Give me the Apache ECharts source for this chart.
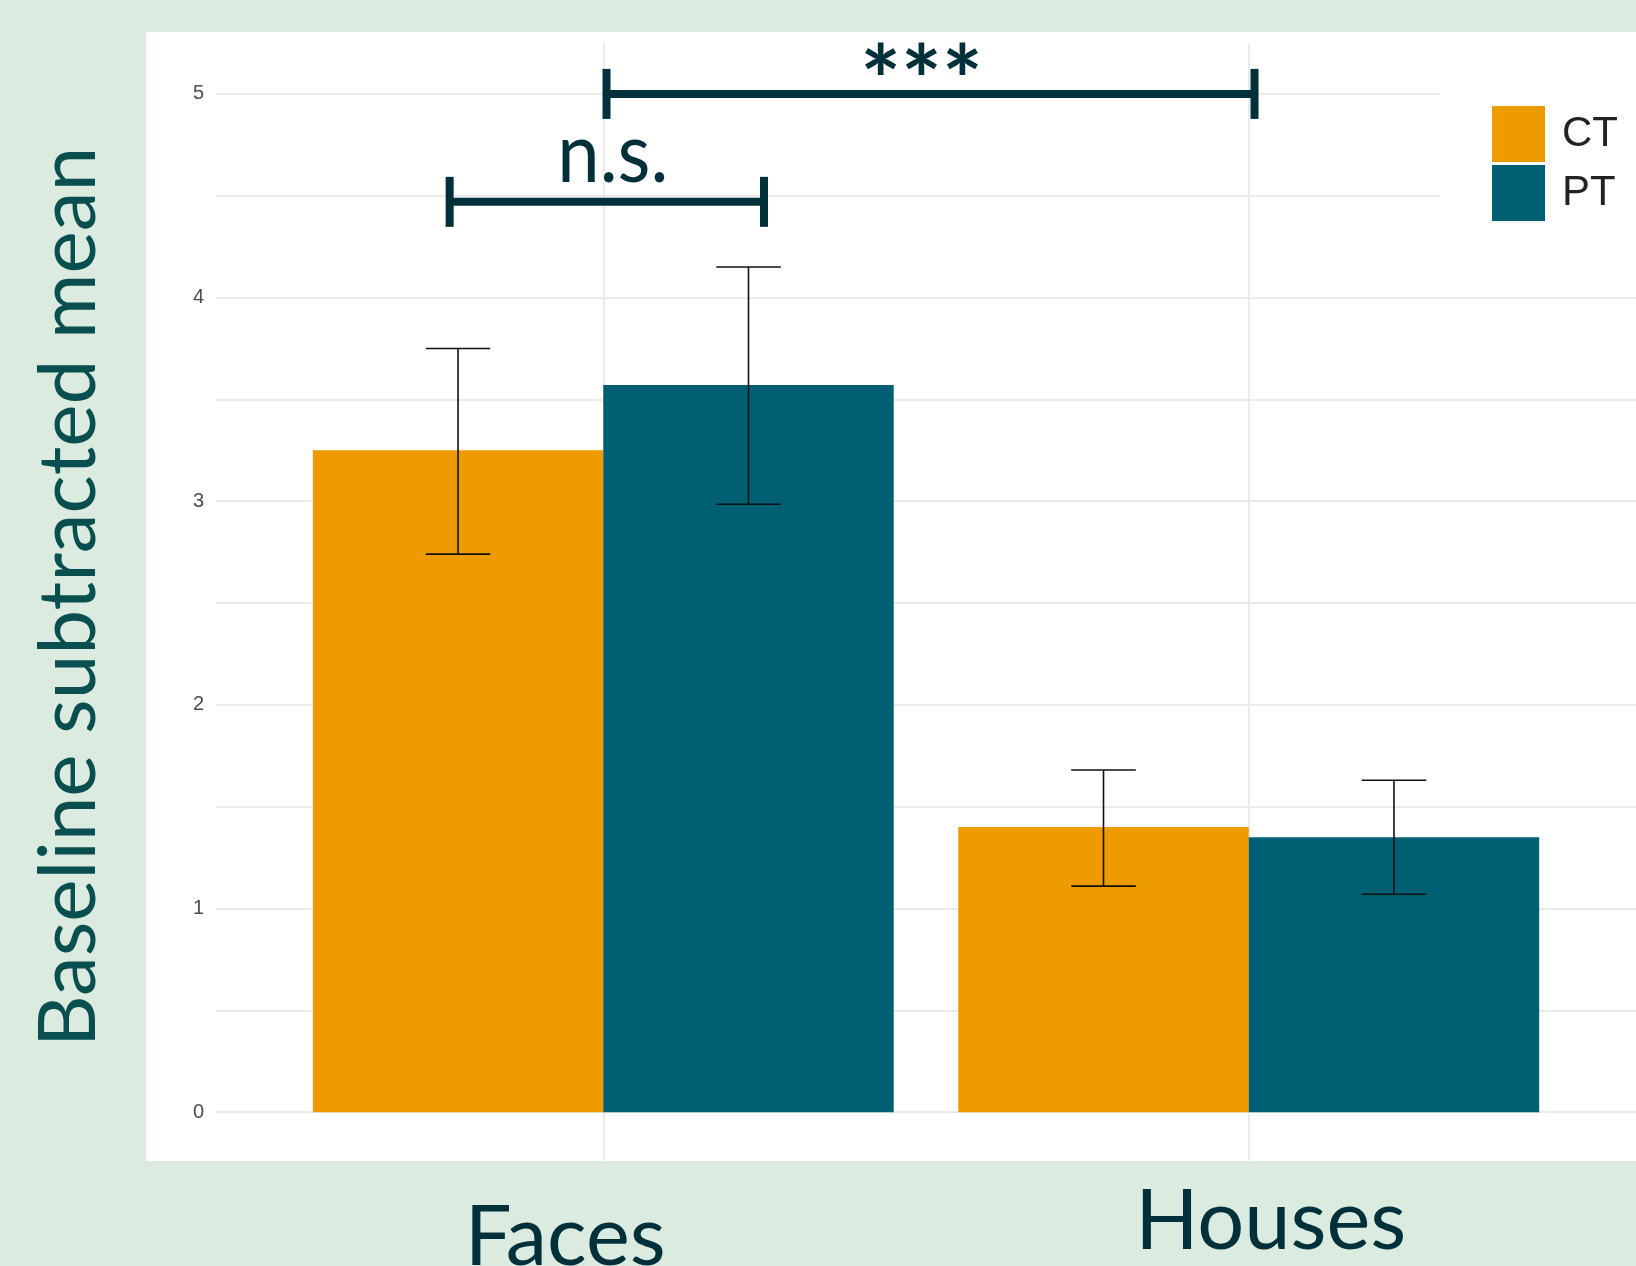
<!DOCTYPE html>
<html>
<head>
<meta charset="utf-8">
<script src="https://cdn.jsdelivr.net/npm/echarts@6/dist/echarts.min.js"></script>
<style>
  html, body { margin:0; padding:0; background:#dcebdf; }
  #chart { width:1636px; height:1266px; }
</style>
</head>
<body>
<div id="chart"></div>
<script>
  // groups sit at 1 and 2 on a numeric x axis (ggplot style)
  const groups = ['Faces', 'Houses'];
  const groupPos = [1, 2];
  const seriesNames = ['CT', 'PT'];

  // bar heights
  const ctMean = [3.25, 1.40];
  const ptMean = [3.57, 1.35];
  // error bar ends
  const ctLow  = [2.74, 1.11];
  const ctHigh = [3.75, 1.68];
  const ptLow  = [2.985, 1.07];
  const ptHigh = [4.15, 1.63];

  // horizontal grid values, whole numbers get a label
  const gridVals = [0, 0.5, 1, 1.5, 2, 2.5, 3, 3.5, 4, 4.5, 5];

  // significance brackets
  const bracketFrom = [0.762, 1.005];
  const bracketTo   = [1.249, 2.009];
  const bracketY    = [4.47, 5.0];
  const bracketText = ['n.s.', '***'];

  const COLORS = ['#ee9b00', '#005f73'];
  const INK = '#00313b';
  const DODGE = 0.225, CAP = 0.05;

  const labelStyle = {
    'n.s.': { font: '76px Lato', lift: 47, dx: 6, scaleY: 1.1 },
    '***':  { font: 'bold 96px Lato', lift: 10, dx: -9, scaleY: 1 }
  };

  const chart = echarts.init(document.getElementById('chart'));

  const errData = [];
  [[ctLow, ctHigh], [ptLow, ptHigh]].forEach(([lo, hi], s) => {
    groupPos.forEach((x, g) => errData.push([x, lo[g], hi[g], s]));
  });

  function renderErr(params, api) {
    const x = api.value(0) + (api.value(3) === 0 ? -DODGE : DODGE);
    const lo = api.coord([x, api.value(1)]);
    const hi = api.coord([x, api.value(2)]);
    const l = api.coord([x - CAP, 0])[0], r = api.coord([x + CAP, 0])[0];
    const st = { stroke: '#111', lineWidth: 1.6 };
    return { type: 'group', children: [
      { type: 'line', shape: { x1: lo[0], y1: lo[1], x2: hi[0], y2: hi[1] }, style: st },
      { type: 'line', shape: { x1: l, y1: hi[1], x2: r, y2: hi[1] }, style: st },
      { type: 'line', shape: { x1: l, y1: lo[1], x2: r, y2: lo[1] }, style: st }
    ]};
  }

  function renderBracket(params, api) {
    const a = api.coord([api.value(0), api.value(2)]);
    const b = api.coord([api.value(1), api.value(2)]);
    const txt = bracketText[params.dataIndex];
    const ls = labelStyle[txt];
    return { type: 'group', children: [
      { type: 'rect', shape: { x: a[0], y: a[1] - 4, width: b[0] - a[0], height: 8 }, style: { fill: INK } },
      { type: 'rect', shape: { x: a[0] - 4, y: a[1] - 25, width: 8, height: 50 }, style: { fill: INK } },
      { type: 'rect', shape: { x: b[0] - 4, y: b[1] - 25, width: 8, height: 50 }, style: { fill: INK } },
      { type: 'text', x: (a[0] + b[0]) / 2 + ls.dx, y: a[1] - ls.lift, scaleY: ls.scaleY,
        style: { text: txt, fill: INK, font: ls.font, textAlign: 'center', textVerticalAlign: 'middle' } }
    ]};
  }

  const gridLines = gridVals.map(v => ({
    yAxis: v,
    label: { show: Number.isInteger(v), formatter: String(v) }
  })).concat(groupPos.map(x => ({ xAxis: x, label: { show: false } })));

  const richKeys = ['f', 'h'];

  chart.setOption({
    backgroundColor: '#dcebdf',
    animation: false,
    graphic: [{
      type: 'rect', left: 146, top: 32, z: -1,
      shape: { width: 1636 - 146, height: 1161 - 32 },
      style: { fill: '#ffffff' }
    }],
    grid: { left: 216, right: 0, top: 43, bottom: 105, containLabel: false, outerBoundsMode: 'none' },
    legend: {
      data: seriesNames, orient: 'vertical', left: 1440, top: 60, z: 10,
      backgroundColor: '#ffffff', padding: [46, 40, 20, 52],
      icon: 'rect', itemWidth: 53, itemHeight: 56, itemGap: 3,
      textStyle: { fontFamily: 'Liberation Sans', fontSize: 42, color: '#222', padding: [6, 0, 0, 12] }
    },
    xAxis: {
      type: 'value', min: 0.4, max: 2.6,
      axisLine: { show: false }, axisTick: { show: false }, splitLine: { show: false },
      axisLabel: {
        customValues: groupPos, margin: 20,
        formatter: v => { const i = groupPos.indexOf(v); return '{' + richKeys[i] + '|' + groups[i] + '}'; },
        rich: {
          f: { fontFamily: 'Lato', fontSize: 83, lineHeight: 83, color: '#00303a', padding: [32, 76, 0, 0] },
          h: { fontFamily: 'Lato', fontSize: 83, lineHeight: 83, color: '#00303a', padding: [0, 0, 0, 44] }
        }
      }
    },
    yAxis: {
      type: 'value', min: -0.24, max: 5.25,
      axisLine: { show: false }, axisTick: { show: false }, splitLine: { show: false },
      axisLabel: { show: false },
      name: 'Baseline subtracted mean', nameLocation: 'middle', nameGap: 107,
      nameTextStyle: { fontFamily: 'Lato', fontSize: 80, color: '#0a4f4f', padding: [0, 0, 0, 10] }
    },
    series: [
      {
        // panel grid lines and y tick labels
        type: 'line', data: [], z: 1, silent: true,
        markLine: {
          silent: true, z: 1, symbol: ['none', 'none'],
          lineStyle: { color: '#ebebeb', width: 2, type: 'solid' },
          label: { position: 'start', distance: 12, color: '#4d4d4d', fontFamily: 'Liberation Sans', fontSize: 20, padding: [5, 0, 0, 0] },
          data: gridLines
        }
      },
      {
        name: 'CT', type: 'bar', z: 2,
        data: groupPos.map((x, i) => [x, ctMean[i]]),
        itemStyle: { color: COLORS[0] },
        barGap: '0%', barCategoryGap: '10%'
      },
      {
        name: 'PT', type: 'bar', z: 2,
        data: groupPos.map((x, i) => [x, ptMean[i]]),
        itemStyle: { color: COLORS[1] },
        barGap: '0%', barCategoryGap: '10%'
      },
      {
        type: 'custom', z: 3, renderItem: renderErr, clip: false,
        encode: { x: 0, y: [1, 2] }, data: errData
      },
      {
        type: 'custom', z: 3, renderItem: renderBracket, clip: false,
        encode: { x: [0, 1], y: 2 },
        data: bracketFrom.map((f, i) => [f, bracketTo[i], bracketY[i]])
      }
    ]
  });

  window.addEventListener('resize', () => chart.resize());
</script>
</body>
</html>
